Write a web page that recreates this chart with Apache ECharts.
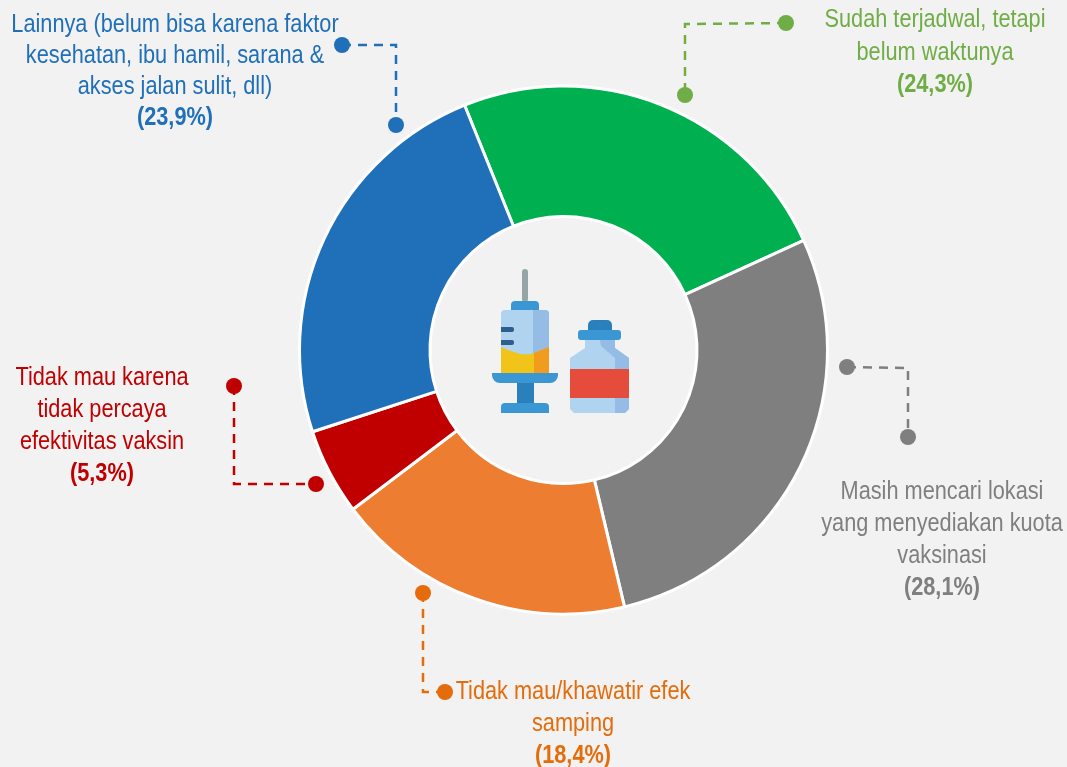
<!DOCTYPE html>
<html><head><meta charset="utf-8">
<style>html,body{margin:0;padding:0;background:#f2f2f2}#c{width:1067px;height:767px}</style>
<script src="https://cdn.jsdelivr.net/npm/echarts@6/dist/echarts.min.js"></script>
</head><body><div id="c"></div>
<script>
const categories = [
  'Sudah terjadwal, tetapi\nbelum waktunya',
  'Masih mencari lokasi\nyang menyediakan kuota\nvaksinasi',
  'Tidak mau/khawatir efek\nsamping',
  'Tidak mau karena\ntidak percaya\nefektivitas vaksin',
  'Lainnya (belum bisa karena faktor\nkesehatan, ibu hamil, sarana &\nakses jalan sulit, dll)'
];
const values = [24.3, 28.1, 18.4, 5.3, 23.9];
const sliceColors = ['#00b050', '#7f7f7f', '#ed7d31', '#c00000', '#1f6fb9'];
const textColors = ['#70ad47', '#7f7f7f', '#e46c0a', '#c00000', '#1f6fb9'];

// annotation layout: [label centre x, first line y, line step], leader [start, corner, end]
const labelPos = [[935,18,32.5],[942,490,32],[573,690,32],[102,376,32],[175,23,31]];
const leaders = [
  [[786,23],[685,24],[685,95]],
  [[847,367],[908,368],[908,437]],
  [[423,593],[423,692],[445,692]],
  [[234,386],[234,484],[316,484]],
  [[342,45],[396,45],[396,125]]
];
const FONT = '"Liberation Sans",Arial,sans-serif';
const gfx = [];
categories.forEach((c, i) => {
  const col = textColors[i], [cx, y0, step] = labelPos[i];
  const lines = c.split('\n').concat('(' + values[i].toFixed(1).replace('.', ',') + '%)');
  lines.forEach((t, k) => {
    const bold = k === lines.length - 1;
    gfx.push({type:'text', z:5, x:cx, y:y0 + 2 + k*step, scaleX:0.82, style:{text:t, fill:col, font:(bold?'bold ':'') + '26.5px ' + FONT, textAlign:'center', textVerticalAlign:'middle'}});
  });
  const pts = leaders[i];
  gfx.push({type:'polyline', z:3, shape:{points:pts}, style:{stroke:col, lineWidth:2.5, lineDash:[9,7], fill:null}});
  [pts[0], pts[2]].forEach(p => gfx.push({type:'circle', z:4, shape:{cx:p[0], cy:p[1], r:8}, style:{fill:col}}));
});

// central icon
const rect = (x,y,w,h,fill,r) => ({type:'rect', z:6, shape:{x,y,width:w,height:h,r:r||0}, style:{fill}});
const poly = (points,fill,z) => ({type:'polygon', z:z||6, shape:{points}, style:{fill}});
const BL='#3b97d3', DB='#2980ba', LT='#b0d3f0', SH='#95bce4';
gfx.push(
  rect(522,269,6,33,'#95a5a6',3),
  rect(511,301,28,10,BL,[4,4,0,0]),
  rect(501,310,48,63,LT,[4,4,0,0]),
  rect(533,310,16,63,SH,[0,4,0,0]),
  poly([[501,347],[508,350],[514,352],[520,354],[528,354.500],[535,353],[541,350],[549,347],[549,373],[501,373]],'#f0c419',7),
  poly([[534,353],[541,350],[549,347],[549,373],[534,373]],'#f29c1f',8),
  rect(501,327,13,5,'#2c5f8d',[0,2,2,0]),rect(501,340,13,5,'#2c5f8d',[0,2,2,0]),rect(501,362,13,5,'#2c5f8d',[0,2,2,0]),
  rect(492,373,66,10,BL,[0,0,8,8]),
  rect(517,383,17,21,DB),
  rect(501,403,48,10,BL,[4,4,0,0]),
  rect(588,320,24,11,DB,[5,5,0,0]),
  poly([[585,340],[585,348],[570,358],[570,409],[574,413],[625,413],[629,409],[629,358],[615,348],[615,340]],LT),
  poly([[600,340],[615,340],[615,348],[629,358],[629,409],[625,413],[615,413],[615,358],[601,346]],SH),
  rect(578,330,43,10,BL,3),
  rect(570,369,59,29,'#e64c3c')
);

const chart = echarts.init(document.getElementById('c'));
chart.setOption({
  backgroundColor:'#f2f2f2',
  animation:false,
  graphic:gfx,
  series:[{
    type:'pie',
    center:[563.5,350],
    radius:[133.5,264],
    startAngle:112,
    clockwise:true,
    label:{show:false},
    labelLine:{show:false},
    silent:true,
    itemStyle:{borderColor:'#fff',borderWidth:3},
    data:values.map((v,i)=>({value:v,name:categories[i],itemStyle:{color:sliceColors[i]}}))
  }]
});
</script></body></html>
